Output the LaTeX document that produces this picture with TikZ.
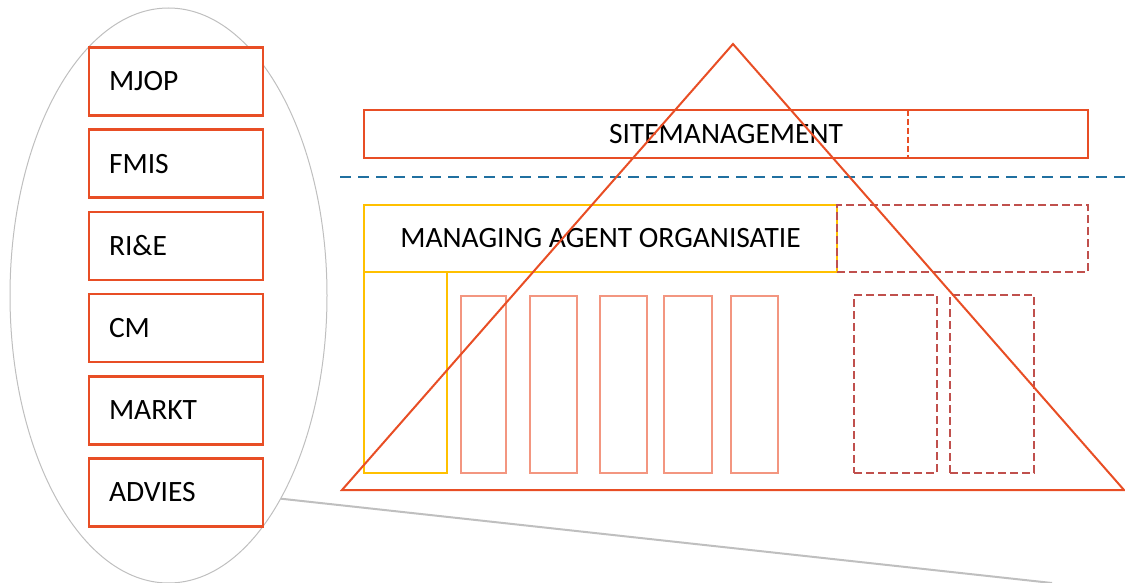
\documentclass[tikz,border=0pt]{standalone}
\usepackage{fontspec}
\setmainfont{Carlito}
\usepackage{tikz}
\usetikzlibrary{shapes.geometric}
\definecolor{boxred}{HTML}{E84E25}
\definecolor{salmon}{HTML}{F39680}
\definecolor{dashred}{HTML}{C0504D}
\definecolor{ochre}{HTML}{FFC000}
\definecolor{lineblue}{HTML}{2070A0}
\definecolor{linegray}{HTML}{BFBFBF}
\newcommand{\diagfont}{\fontsize{29.5}{35}\selectfont}
\tikzset{
    toolbox/.style = {rectangle, draw=boxred, line width=2.7pt, fill=white, minimum width=174pt, minimum height=68pt, text width=134pt, inner sep=0pt, align=left, font=\diagfont},
    sitebox/.style = {rectangle, draw=boxred, line width=2.7pt, minimum width=724pt, minimum height=48pt, inner sep=0pt, font=\diagfont},
    agentbox/.style = {rectangle, draw=ochre, line width=2.5pt, inner sep=0pt, font=\diagfont},
    column/.style = {rectangle, draw=salmon, line width=2pt, minimum height=177pt, inner sep=0pt},
    openbox/.style = {rectangle, draw=dashred, line width=2pt, dash pattern=on 8pt off 4pt, inner sep=0pt},
    oval/.style = {ellipse, draw=linegray, line width=1pt, minimum width=317pt, minimum height=575pt, inner sep=0pt},
    pyramid/.style = {draw=boxred, line width=2pt, line join=miter},
    divider/.style = {draw=lineblue, line width=2.2pt, dash pattern=on 11pt off 7pt},
    zoomline/.style = {draw=linegray, line width=2pt}
}
\begin{document}
\begin{tikzpicture}[x=1pt, y=-1pt, node distance=82.2pt]
\useasboundingbox (0,0) rectangle (1125,583);
\node (ring) [oval] at (168.5,295.5) {};
\node (mjop) [toolbox] at (176,81.5) {MJOP};
\node (fmis) [toolbox, below of=mjop] {FMIS};
\node (rie) [toolbox, below of=fmis] {RI\&E};
\node (cm) [toolbox, below of=rie] {CM};
\node (markt) [toolbox, below of=cm] {MARKT};
\node (advies) [toolbox, below of=markt] {ADVIES};
\coordinate (zoomend) at (1052,583);
\draw [zoomline] (ring.-61) -- (zoomend);

\node (site) [sitebox] at (726,134) {SITEMANAGEMENT};
\draw [draw=boxred, line width=2pt, dash pattern=on 6pt off 3pt] (908,110) -- (908,158);
\draw [divider] (340,177) -- (1125,177);

\node (agent) [agentbox, minimum width=473pt, minimum height=67pt] at (600.5,238.5) {MANAGING AGENT ORGANISATIE};
\node (agentcol) [agentbox, minimum width=83pt, minimum height=201pt] at (405.5,372.5) {};
\node (extra) [openbox, minimum width=251pt, minimum height=67pt] at (962.5,238.5) {};

\node (col1) [column, minimum width=45pt] at (483.5,384.5) {};
\node (col2) [column, minimum width=47pt] at (553.5,384.5) {};
\node (col3) [column, minimum width=47pt] at (623.5,384.5) {};
\node (col4) [column, minimum width=48pt] at (688,384.5) {};
\node (col5) [column, minimum width=47pt] at (754.5,384.5) {};
\node (open1) [openbox, minimum width=83pt, minimum height=178pt] at (895.5,384) {};
\node (open2) [openbox, minimum width=84pt, minimum height=178pt] at (992,384) {};

\draw [pyramid] (342,490) -- (733,44) -- (1124,490) -- cycle;
\end{tikzpicture}
\end{document}
